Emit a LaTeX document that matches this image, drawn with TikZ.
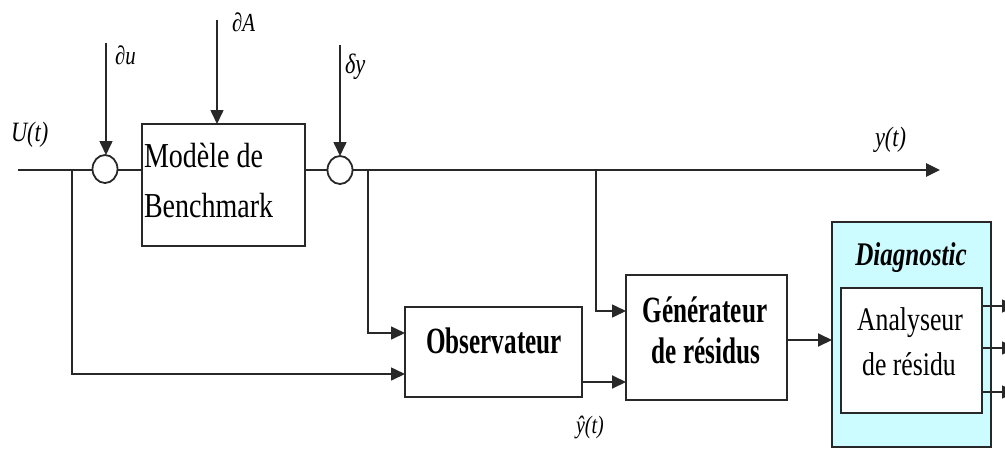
\documentclass[tikz,border=0pt]{standalone}
\usepackage{fontspec}
\setmainfont{Liberation Serif}
\newfontfamily\fmod[FakeStretch=0.8]{Liberation Serif}
\newfontfamily\fbd[FakeStretch=0.68]{Liberation Serif}
\newfontfamily\fdia[FakeStretch=0.76]{Liberation Serif}
\newfontfamily\fana[FakeStretch=0.78]{Liberation Serif}
\newfontfamily\flab[FakeStretch=0.8]{Liberation Serif}
\usetikzlibrary{arrows.meta,shapes.geometric}
\definecolor{ln}{RGB}{40,40,40}
\definecolor{diagcyan}{RGB}{204,252,255}
\begin{document}
\begin{tikzpicture}[x=1pt,y=-1pt,
  blk/.style={draw=ln, line width=2.4pt, fill=white, inner sep=0pt, outer sep=0pt, rectangle},
  sumnode/.style={draw=ln, ellipse, line width=1.8pt, minimum width=25pt, minimum height=28pt, inner sep=0pt, outer sep=0pt, fill=white},
  sig/.style={draw=ln, line width=2.6pt},
  br/.style={draw=ln, line width=1.6pt},
  arr/.style={-{Triangle[length=14pt,width=13pt]}},
  txt/.style={inner sep=0pt, outer sep=0pt, text=black},
  boxtext/.style={txt, anchor=base, font=\fbd\bfseries\fontsize{37}{40}\selectfont},
  lab/.style={txt, anchor=base west, font=\flab\itshape\fontsize{28}{30}\selectfont}
]
\useasboundingbox (0,0) rectangle (1005,448);
\clip (0,0) rectangle (1005,448);

% blocks
\node[blk, minimum width=163pt, minimum height=122pt] (bench) at (223.5,185) {};
\node[blk, minimum width=177pt, minimum height=90pt] (obs) at (493.5,352) {};
\node[blk, minimum width=161pt, minimum height=125pt] (gen) at (706.5,337.5) {};
\node[blk, fill=diagcyan, line width=2pt, minimum width=159pt, minimum height=225pt] (diag) at (911.5,334.5) {};
\node[blk, minimum width=141pt, minimum height=125pt] (ana) at (911.5,350.5) {};

% summing junctions
\node[sumnode] (c1) at (105,169) {};
\node[sumnode] (c2) at (340,170) {};

% coordinates
\coordinate (uin) at (18,170);
\coordinate (yout) at (940,170);
\coordinate (du) at (106,43);
\coordinate (dA) at (217,20);
\coordinate (dy) at (340,45);
\coordinate (j1) at (72,170);
\coordinate (j2) at (368,170);
\coordinate (j3) at (596,170);
\coordinate (o1) at (1016,306);
\coordinate (o2) at (1016,348);
\coordinate (o3) at (1016,392);

% main signal path
\draw[sig] (uin) -- (c1.west |- uin);
\draw[sig] (c1.east |- uin) -- (bench.west |- uin);
\draw[sig] (bench.east |- c2) -- (c2);
\draw[sig, arr] (c2) -- (yout);

% disturbances
\draw[br, arr] (du) -- (du |- c1.north);
\draw[br, arr] (dA) -- (dA |- bench.north);
\draw[br, arr] (dy) -- (c2.north);

% branches
\draw[br, arr] (j1) |- (obs.west |- 0,374);
\draw[br, arr] (j2) |- (obs.west |- 0,333);
\draw[br, arr] (j3) |- (gen.west |- 0,311);
\draw[br, line width=2pt, arr] (obs.east |- 0,382) -- (gen.west |- 0,382);
\draw[br, line width=2pt, arr] (gen.east |- 0,340) -- (diag.west |- 0,340);

% outputs
\draw[br, arr] (ana.east |- o1) -- (o1);
\draw[br, arr] (ana.east |- o2) -- (o2);
\draw[br, arr] (ana.east |- o3) -- (o3);

% texts
\node[txt, anchor=base west, font=\fmod\fontsize{35}{40}\selectfont] (tb1) at (144,167) {Modèle de};
\node[txt, anchor=base west, font=\fmod\fontsize{35}{40}\selectfont] (tb2) at (144,217) {Benchmark};
\node[boxtext] (to) at (494,353) {Observateur};
\node[boxtext] (tg1) at (705,322) {Générateur};
\node[boxtext] (tg2) at (706,363) {de résidus};
\node[txt, anchor=base, font=\fdia\bfseries\itshape\fontsize{33}{36}\selectfont] (td) at (911,265) {Diagnostic};
\node[txt, anchor=base, font=\fana\fontsize{33}{36}\selectfont] (ta1) at (910,330) {Analyseur};
\node[txt, anchor=base, font=\fana\fontsize{33}{36}\selectfont] (ta2) at (909,375) {de résidu};

\node[lab] (lu) at (11,141) {U(t)};
\node[lab] (ly) at (875,146) {y(t)};
\node[lab, font=\flab\itshape\fontsize{26}{28}\selectfont] (ldu) at (115,64) {∂u};
\node[lab, font=\flab\itshape\fontsize{26}{28}\selectfont] (ldA) at (232,31) {∂A};
\node[lab, font=\flab\itshape\fontsize{28}{30}\selectfont] (ldy) at (345,73) {δy};
\node[lab, font=\flab\itshape\fontsize{25}{28}\selectfont] (lyh) at (576,433) {ŷ(t)};
\end{tikzpicture}
\end{document}
